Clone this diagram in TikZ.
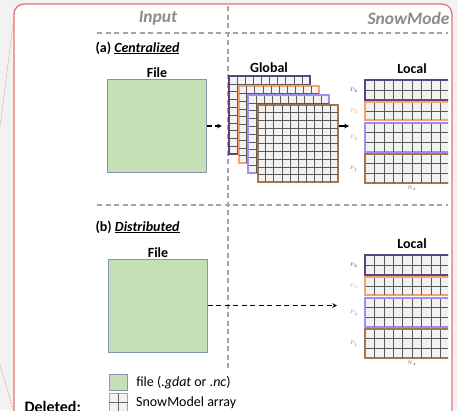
\documentclass[tikz,border=0pt]{standalone}
\usepackage{fontspec}
\setmainfont{Carlito}
\usepackage{tikz}
\usetikzlibrary{arrows, positioning, calc}

\definecolor{filegreen}{HTML}{C5E0B4}
\definecolor{fileedge}{HTML}{8496B0}
\definecolor{procA}{HTML}{5E4383}
\definecolor{procB}{HTML}{F4A46C}
\definecolor{procC}{HTML}{9F8FF2}
\definecolor{procD}{HTML}{A8754C}
\definecolor{cellfill}{HTML}{F2F2F2}
\definecolor{cellline}{HTML}{5A5A5A}
\definecolor{headgray}{HTML}{8C8C8C}
\definecolor{dashgray}{HTML}{A6A6A6}
\definecolor{markred}{HTML}{E57373}
\definecolor{pagegray}{HTML}{F2F2F2}

\begin{document}
\begin{tikzpicture}[x=1pt, y=-1pt,
    file/.style={rectangle, draw=fileedge, fill=filegreen, line width=0.8pt, minimum width=99pt, minimum height=93pt, inner sep=0pt},
    globalgrid/.style={rectangle, fill=cellfill, line width=1.1pt, minimum width=80pt, minimum height=77pt, inner sep=0pt},
    strip/.style={rectangle, fill=cellfill, line width=1.1pt, minimum width=100pt, anchor=north west, inner sep=0pt},
    cellrule/.style={cellline, line width=0.5pt},
    heading/.style={font=\bfseries\itshape\fontsize{17.5}{20}\selectfont, text=headgray},
    panel/.style={font=\bfseries\fontsize{14}{16}\selectfont, anchor=west},
    label/.style={font=\bfseries\fontsize{14}{16}\selectfont, inner sep=1pt},
    tiny/.style={font=\fontsize{4}{5}\selectfont, inner sep=1pt},
    legend/.style={font=\fontsize{14}{16}\selectfont, anchor=west},
    divider/.style={dashgray, line width=1.3pt, dash pattern=on 5pt off 3.5pt},
    arrow/.style={line width=1.1pt, ->, >=stealth},
    dasharrow/.style={arrow, dash pattern=on 5pt off 3.5pt}
]

% page and comment margin
\fill[pagegray] (0,0) rectangle (458,410);
\useasboundingbox (0,0) rectangle (458,410);
\clip (0,0) rectangle (458,410);
\draw[markred, line width=0.6pt, densely dotted] (14,17) -- (0,127);
\draw[markred, line width=0.6pt, densely dotted] (0,365) -- (14,412);
\draw[markred, line width=1.3pt, fill=white, rounded corners=10pt] (14,4) rectangle (452,440);

\begin{scope}
\clip (15,5) rectangle (448,410);

\node[heading] (input) at (158,18) {Input};
\node[heading, anchor=west] (model) at (364,18) {SnowModel};

\draw[divider] (228,6) -- (228,370);
\draw[divider] (97,33) -- (450,33);
\draw[divider] (97,205) -- (450,205);

% (a) centralized
\node[panel] (cent) at (92,48) {(a) \underline{\textit{Centralized}}};
\node[file] (filea) at (157,126) {};
\node[label, above=0pt of filea] {File};

\foreach \g/\cx/\cy/\col in {g4/269.5/115/procA, g3/279/124.5/procB, g2/288.5/134/procC, g1/298/143.5/procD} {
    \node[globalgrid, draw=\col] (\g) at (\cx,\cy) {};
    \foreach \i in {1,...,9} {
        \draw[cellrule] ($(\g.north west)!\i/10!(\g.north east)$) -- ($(\g.south west)!\i/10!(\g.south east)$);
        \draw[cellrule] ($(\g.north west)!\i/10!(\g.south west)$) -- ($(\g.north east)!\i/10!(\g.south east)$);
    }
    \draw[\col, line width=1.1pt] (\g.north west) rectangle (\g.south east);
}
\node[label] (global) at (269,68) {Global};

% (b) distributed
\node[panel] (dist) at (92,227) {(b) \underline{\textit{Distributed}}};
\node[file] (fileb) at (158,305.5) {};
\node[label, above=0pt of fileb] {File};

% local strips for both panels
\foreach \sec/\dy in {a/0, b/175} {
    \foreach \s/\top/\h/\rows/\col in {4/80/19/2/procA, 3/102/17/2/procB, 2/123/28/3/procC, 1/154/28/3/procD} {
        \node[strip, draw=\col, minimum height=\h pt] (l\sec\s) at (365,\top+\dy) {};
        \foreach \k in {1,...,9}
            \draw[cellrule] ($(l\sec\s.north west)+(9.4*\k,0)$) -- ($(l\sec\s.south west)+(9.4*\k,0)$);
        \foreach \r in {1,...,\rows}
            \draw[cellrule] ($(l\sec\s.north west)!\r/\rows!(l\sec\s.south west)$) -- ++(100,0);
        \draw[\col, line width=1.1pt] (l\sec\s.north west) rectangle (l\sec\s.south east);
        \node[tiny, text=\col, left=6pt of l\sec\s] {$P_\s$};
    }
    \node[label] at (412,69+\dy) {Local};
    \node[tiny, text=cellline] (nx\sec) at (412,188+\dy) {$N_x$};
}

\draw[dasharrow] (filea.east) -- (filea.east -| g4.west) [shorten >=7pt];
\draw[arrow] (g1.east |- filea.east) -- (la2.west |- filea.east) [shorten >=16pt];
\draw[dasharrow] (fileb.east) -- (lb2.west |- fileb.east) [shorten >=28pt];

% key
\node[file, minimum width=18pt, minimum height=16pt, anchor=north west] (keyfile) at (109,374) {};
\node[legend, right=5pt of keyfile] {file (\textit{.gdat} or \textit{.nc})};
\node[rectangle, draw=gray!70, fill=cellfill, line width=0.6pt, minimum width=18pt, minimum height=18pt, anchor=north west, inner sep=0pt] (keygrid) at (109,393) {};
\draw[gray!80!black, line width=0.5pt] (keygrid.north) -- (keygrid.south);
\draw[gray!80!black, line width=0.5pt] (keygrid.west) -- (keygrid.east);
\node[legend, right=5pt of keygrid] {SnowModel array};

\node[anchor=base west, font=\bfseries\fontsize{16}{18}\selectfont] (deleted) at (21,412) {Deleted:};
\end{scope}

\end{tikzpicture}
\end{document}
